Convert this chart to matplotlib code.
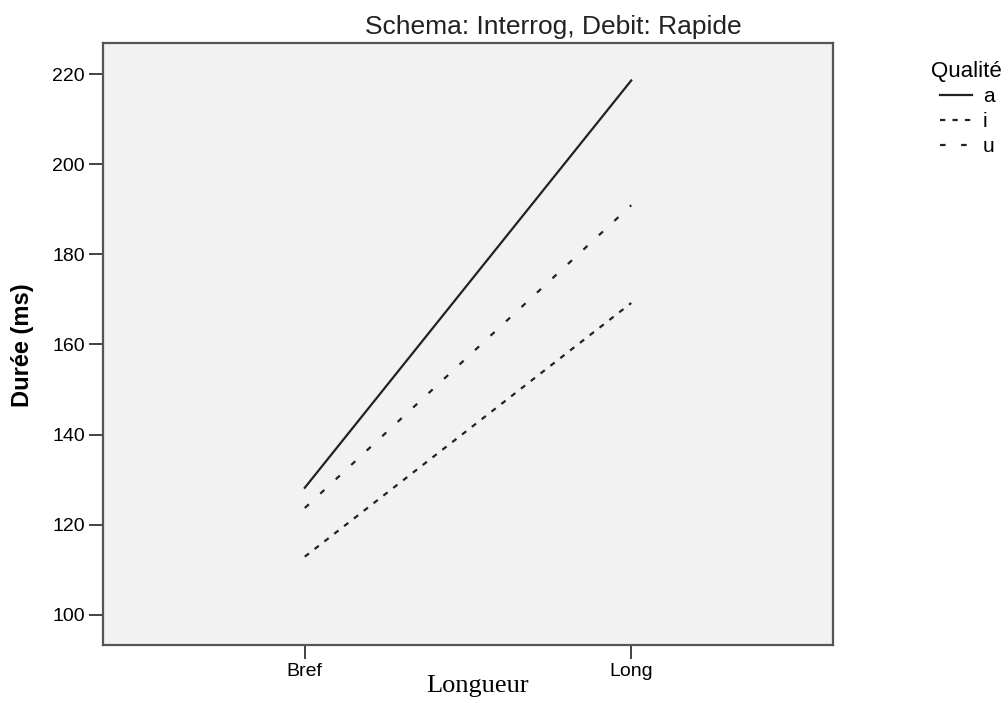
import matplotlib.pyplot as plt
import numpy as np

# data
longueur = ["Bref", "Long"]
duree_a = [128.2, 218.6]
duree_i = [112.9, 169.2]
duree_u = [123.7, 190.9]
qualite = ["a", "i", "u"]

plt.rcParams['font.family'] = ['Liberation Sans', 'DejaVu Sans']

fig = plt.figure(figsize=(10.08, 7.03), dpi=100)
ax = fig.add_axes([0.1022, 0.0825, 0.7242, 0.8563])
ax.set_facecolor('#f2f2f2')

x = np.arange(len(longueur))
col = '#222222'
ax.plot(x, duree_a, color=col, lw=1.6, linestyle='-', label=qualite[0])
ax.plot(x, duree_i, color=col, lw=1.6, linestyle=(0, (2.4, 3.2)), label=qualite[1])
ax.plot(x, duree_u, color=col, lw=1.6, linestyle=(0, (2.5, 7.0)), label=qualite[2])

ax.set_xlim(-0.618, 1.618)
ax.set_ylim(93.3, 226.9)
ax.set_xticks(x)
ax.set_xticklabels(longueur)
ax.set_yticks(np.arange(100, 221, 20))
ax.tick_params(direction='out', length=10, width=1.3, color='#333333',
               labelsize=14, pad=3)
for s in ax.spines.values():
    s.set_color('#555555')
    s.set_linewidth(1.6)

fig.text(22 / 1008, 1 - 345 / 703, "Durée (ms)", rotation=90, ha='center', va='center',
         fontsize=17, fontweight='bold')
fig.text(0.549, 1 - 27 / 703, "Schema: Interrog, Debit: Rapide", ha='center', va='center',
         fontsize=19, color='#222222')
fig.text(478 / 1008, 1 - 686 / 703, "Longueur", ha='center', va='center', fontsize=19,
         family=['Liberation Serif', 'DejaVu Serif'])

fig.text(931 / 1008, 1 - 72 / 703, "Qualité", ha='left', va='center', fontsize=16)
fig.legend(loc='upper left', bbox_to_anchor=(940 / 1008, 1 - 87 / 703), frameon=False,
           fontsize=15, handlelength=1.55, handletextpad=0.5,
           labelspacing=0.3, borderpad=0, borderaxespad=0)

plt.savefig("out.png", dpi=100)
